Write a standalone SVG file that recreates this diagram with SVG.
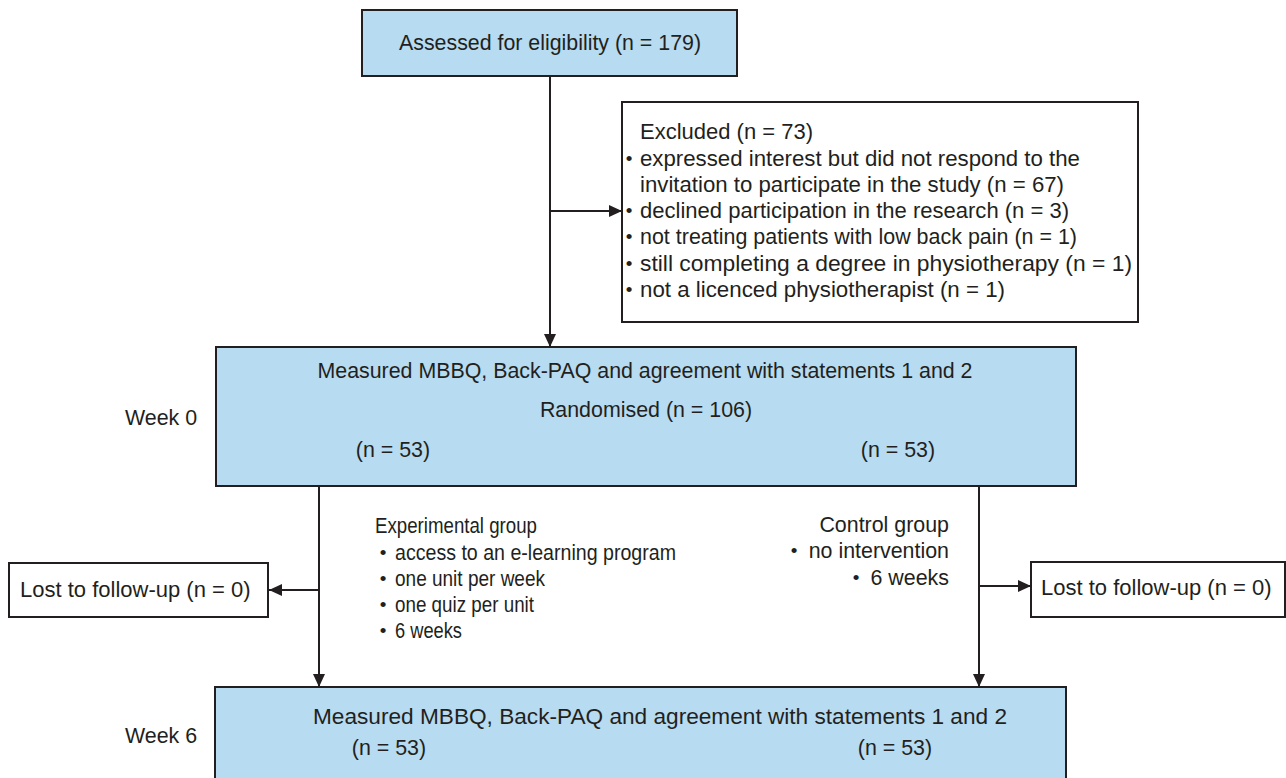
<svg xmlns="http://www.w3.org/2000/svg" width="1286" height="778" viewBox="0 0 1286 778">
<style>
.box{fill:#b7dbf0;stroke:#231f20;stroke-width:2}
.wbox{fill:#ffffff;stroke:#231f20;stroke-width:2}
.t{font-family:"Liberation Sans",Arial,sans-serif;font-size:21.4px;fill:#231f20}
.x{font-size:22px}
.b{font-family:"Liberation Sans",Arial,sans-serif;font-size:19px;fill:#231f20;text-anchor:middle}
.c{text-anchor:middle}
.r{text-anchor:end}
.ln{stroke:#231f20;stroke-width:2;fill:none}
</style>
<defs>
<marker id="ah" markerUnits="userSpaceOnUse" markerWidth="14" markerHeight="12" refX="13" refY="6" orient="auto">
<path d="M0,0 L13,6 L0,12 Z" fill="#231f20"/>
</marker>
</defs>
<rect width="1286" height="778" fill="#ffffff"/>
<g id="connectors">
<line class="ln" x1="550" y1="76" x2="550" y2="347" marker-end="url(#ah)"/>
<line class="ln" x1="550" y1="211" x2="622" y2="211" marker-end="url(#ah)"/>
<line class="ln" x1="319" y1="486" x2="319" y2="687" marker-end="url(#ah)"/>
<line class="ln" x1="979" y1="486" x2="979" y2="687" marker-end="url(#ah)"/>
<line class="ln" x1="319" y1="590" x2="269" y2="590" marker-end="url(#ah)"/>
<line class="ln" x1="979" y1="586" x2="1031" y2="586" marker-end="url(#ah)"/>
</g>
<g id="assessed">
<rect class="box" x="362" y="10" width="375" height="66"/>
<text class="t c" x="550" y="50" textLength="302" lengthAdjust="spacingAndGlyphs">Assessed for eligibility (n = 179)</text>
</g>
<g id="excluded">
<rect class="wbox" x="622" y="102" width="516" height="220"/>
<text class="t x" x="640" y="139">Excluded (n = 73)</text>
<text class="b" x="629" y="165">•</text>
<text class="t x" x="640" y="166" textLength="440" lengthAdjust="spacingAndGlyphs">expressed interest but did not respond to the</text>
<text class="t x" x="640" y="192" textLength="424" lengthAdjust="spacingAndGlyphs">invitation to participate in the study (n = 67)</text>
<text class="b" x="629" y="217">•</text>
<text class="t x" x="640" y="218" textLength="429" lengthAdjust="spacingAndGlyphs">declined participation in the research (n = 3)</text>
<text class="b" x="629" y="243">•</text>
<text class="t x" x="640" y="244" textLength="437" lengthAdjust="spacingAndGlyphs">not treating patients with low back pain (n = 1)</text>
<text class="b" x="629" y="270">•</text>
<text class="t x" x="640" y="271" textLength="492" lengthAdjust="spacingAndGlyphs">still completing a degree in physiotherapy (n = 1)</text>
<text class="b" x="629" y="296">•</text>
<text class="t x" x="640" y="297" textLength="365" lengthAdjust="spacingAndGlyphs">not a licenced physiotherapist (n = 1)</text>
</g>
<g id="week0-label">
<text class="t" x="125" y="425">Week 0</text>
</g>
<g id="week0">
<rect class="box" x="216" y="347" width="860" height="139"/>
<text class="t c" x="645" y="378" textLength="655" lengthAdjust="spacingAndGlyphs">Measured MBBQ, Back-PAQ and agreement with statements 1 and 2</text>
<text class="t c" x="646" y="417">Randomised (n = 106)</text>
<text class="t c" x="393" y="457">(n = 53)</text>
<text class="t c" x="898" y="457">(n = 53)</text>
</g>
<g id="experimental">
<text class="t" x="375" y="533" textLength="162" lengthAdjust="spacingAndGlyphs">Experimental group</text>
<text class="b" x="383" y="559">•</text>
<text class="t" x="395" y="560" textLength="281" lengthAdjust="spacingAndGlyphs">access to an e-learning program</text>
<text class="b" x="383" y="585">•</text>
<text class="t" x="395" y="586" textLength="150" lengthAdjust="spacingAndGlyphs">one unit per week</text>
<text class="b" x="383" y="611">•</text>
<text class="t" x="395" y="612" textLength="139" lengthAdjust="spacingAndGlyphs">one quiz per unit</text>
<text class="b" x="383" y="637">•</text>
<text class="t" x="395" y="638" textLength="67" lengthAdjust="spacingAndGlyphs">6 weeks</text>
</g>
<g id="control">
<text class="t r" x="949" y="532">Control group</text>
<text class="b" x="794" y="557">•</text>
<text class="t r" x="949" y="558">no intervention</text>
<text class="b" x="856" y="584">•</text>
<text class="t r" x="949" y="585">6 weeks</text>
</g>
<g id="lost-left">
<rect class="wbox" x="9" y="563" width="259" height="54"/>
<text class="t x" x="20" y="597">Lost to follow-up (n = 0)</text>
</g>
<g id="lost-right">
<rect class="wbox" x="1031" y="562" width="254" height="55"/>
<text class="t x" x="1041" y="595">Lost to follow-up (n = 0)</text>
</g>
<g id="week6-label">
<text class="t" x="125" y="743">Week 6</text>
</g>
<g id="week6">
<rect class="box" x="215" y="687" width="851" height="110"/>
<text class="t c" x="660" y="724" style="font-size:22.5px" textLength="694" lengthAdjust="spacingAndGlyphs">Measured MBBQ, Back-PAQ and agreement with statements 1 and 2</text>
<text class="t c" x="389" y="755">(n = 53)</text>
<text class="t c" x="895" y="755">(n = 53)</text>
</g>
</svg>
